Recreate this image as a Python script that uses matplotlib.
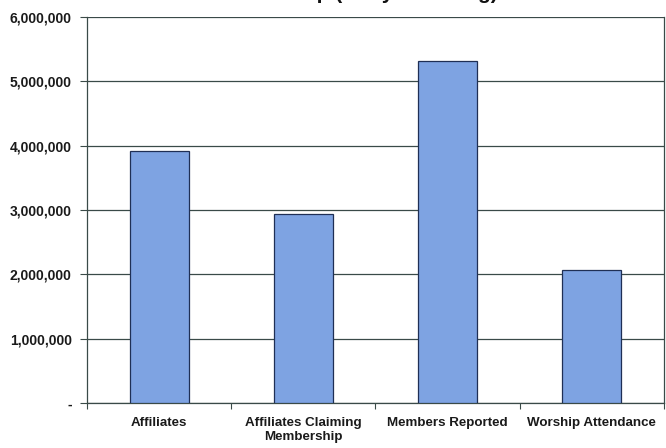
import numpy as np
import matplotlib
matplotlib.use('Agg')
import matplotlib.pyplot as plt
from matplotlib.ticker import FuncFormatter

# ------------------------------------------------------------------
# Data
# ------------------------------------------------------------------
categories = ['Affiliates', 'Affiliates Claiming\nMembership',
              'Members Reported', 'Worship Attendance']
values = [3920000, 2940000, 5310000, 2060000]
y_ticks = [0, 1000000, 2000000, 3000000, 4000000, 5000000, 6000000]
title = 'Membership (Early Counting)'

plt.rcParams['font.family'] = ['Liberation Sans', 'DejaVu Sans']

fig = plt.figure(figsize=(6.66, 4.48), dpi=100)
ax = fig.add_axes([0.1306, 0.1004, 0.866, 0.8616])

x = np.arange(len(categories))
ax.bar(x, values, width=0.41, color='#7ea3e2', edgecolor='#1f2f55',
       linewidth=0.9, zorder=3)

ax.set_xlim(-0.5, len(categories) - 0.5)
ax.set_ylim(0, 6000000)
ax.set_yticks(y_ticks)
ax.yaxis.set_major_formatter(FuncFormatter(lambda v, p: '-' if v == 0 else f'{int(v):,}'))
ax.grid(axis='y', color='#3a4a48', linewidth=0.9, zorder=0)

# category boundaries carry the tick marks, labels sit in the middle
ax.set_xticks(np.arange(len(categories) + 1) - 0.5)
ax.set_xticklabels([])
ax.set_xticks(x, minor=True)
ax.set_xticklabels(categories, minor=True, fontsize=9.6, fontweight='bold',
                   color='#1a1a1a')
ax.tick_params(axis='x', which='minor', length=0, pad=10)
ax.tick_params(axis='x', which='major', length=4, color='#3a4a48')
ax.tick_params(axis='y', length=5, color='#3a4a48', pad=6,
               labelsize=10, labelcolor='#1a1a1a')
for lab in ax.get_yticklabels():
    lab.set_fontweight('bold')

ax.spines['top'].set_visible(False)
for side in ['left', 'bottom', 'right']:
    ax.spines[side].set_color('#3a4a48')
    ax.spines[side].set_linewidth(0.9)

# title is mostly cut off by the top edge in the reference
fig.text(498 / 666, 1 + 1 / 448, title, ha='right', va='baseline',
         fontsize=15, fontweight='bold', color='#111111')

fig.savefig('out.png', dpi=100)
